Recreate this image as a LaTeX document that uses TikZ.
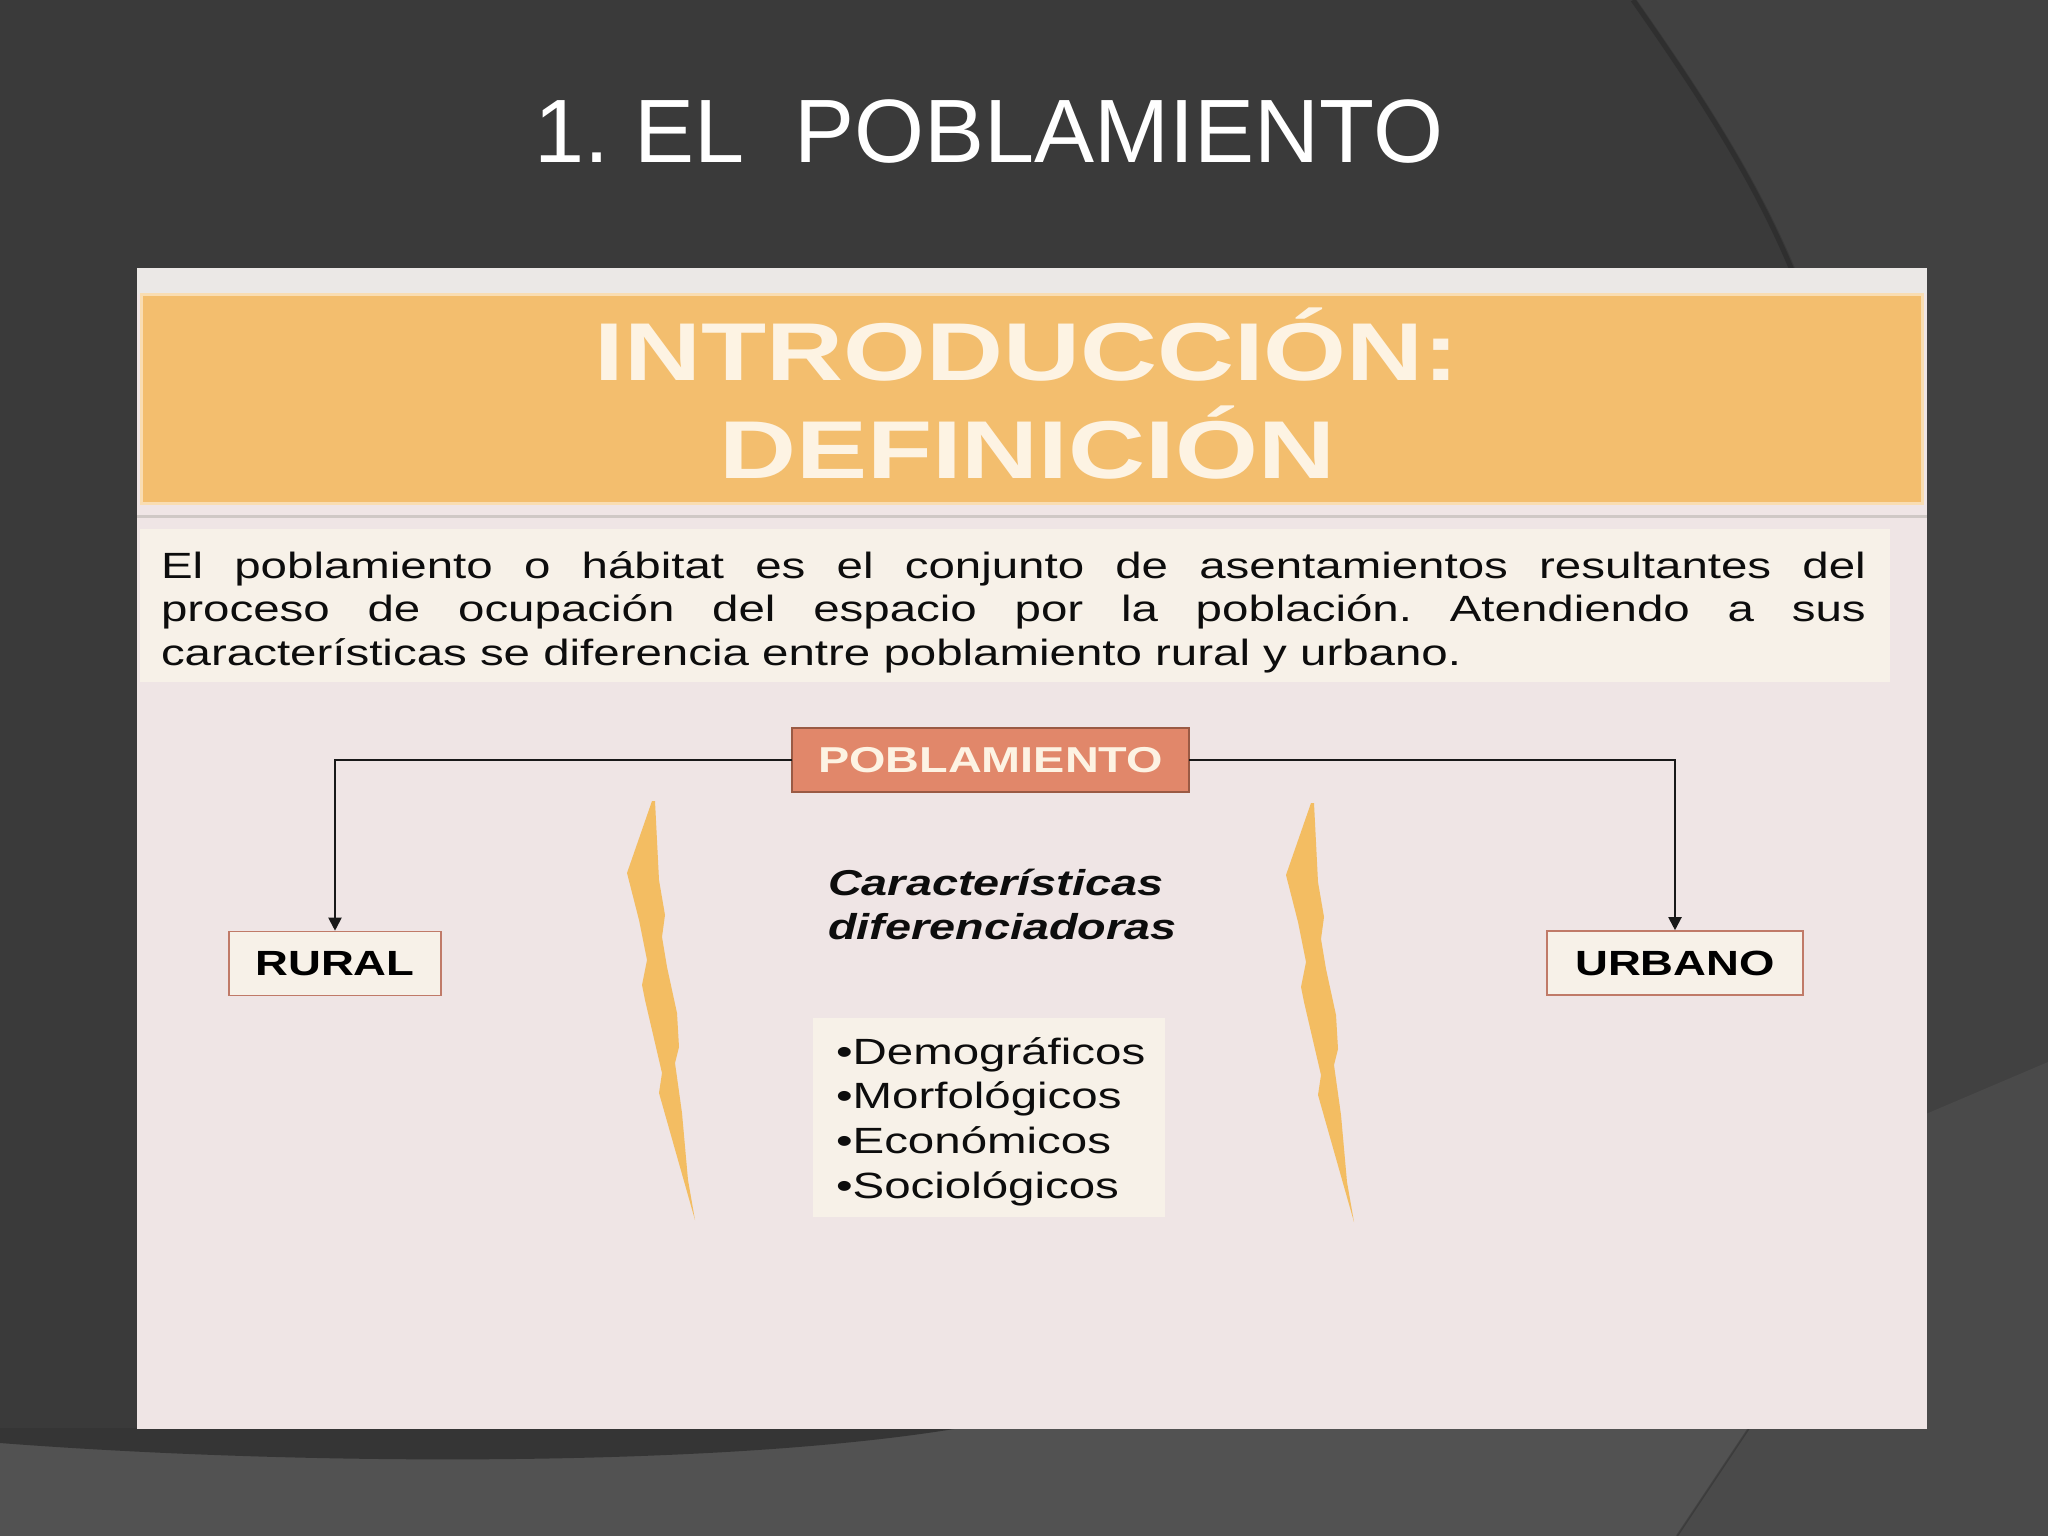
\documentclass[tikz,border=0pt]{standalone}
\usepackage{fontspec}
\setmainfont{Liberation Sans}
\newfontfamily\titlefont{Liberation Sans}
\newfontfamily\innerfont[FakeStretch=1.3]{Liberation Sans}
\usetikzlibrary{arrows.meta}
\frenchspacing
\definecolor{bgdark}{HTML}{3A3A3A}
\definecolor{bgright}{HTML}{414141}
\definecolor{bgbottom}{HTML}{525252}
\definecolor{bgbr}{HTML}{4A4A4A}
\definecolor{bgcurve}{HTML}{353535}
\definecolor{panelbg}{HTML}{EFE5E5}
\definecolor{paneltop}{HTML}{EBE8E6}
\definecolor{orangeband}{HTML}{F3BE6E}
\definecolor{bandedge}{HTML}{F9DDB2}
\definecolor{creambox}{HTML}{F7F1E8}
\definecolor{pobfill}{HTML}{E1876A}
\definecolor{pobdraw}{HTML}{9A5A44}
\definecolor{boxdraw}{HTML}{C07A68}
\definecolor{bolt}{HTML}{F3BD62}
\definecolor{hdrtext}{HTML}{FDF3E3}
\definecolor{sepline}{HTML}{CFC8C5}
\tikzset{
  sizebox/.style={inner sep=0pt, outer sep=0pt},
  mainbox/.style={draw=boxdraw, fill=creambox, line width=1.6pt, inner sep=0pt,
    font=\innerfont\bfseries\fontsize{35}{42}\selectfont, text=black},
  conn/.style={draw=black!90, line width=2pt, -{Triangle[length=13pt,width=13pt]}},
  boltshape/.style={fill=bolt, draw=none},
}
\begin{document}
\begin{tikzpicture}[x=1pt,y=-1pt]
\useasboundingbox (0,0) rectangle (2048,1536);
% background
\fill[bgdark] (0,0) rectangle (2048,1536);
\fill[bgright] (1637,0) .. controls (1700,90) and (1760,180) .. (1800,280) -- (1850,1536) -- (2048,1536) -- (2048,0) -- cycle;
\draw[black, opacity=0.18, line width=5pt] (1633,0) .. controls (1696,90) and (1756,180) .. (1796,280);
\fill[bgbr] (1900,1125) -- (2048,1062) -- (2048,1536) -- (1900,1536) -- cycle;
\fill[bgbottom] (0,1428) rectangle (2048,1536);
\fill[bgbr] (1749,1428) -- (2048,1428) -- (2048,1536) -- (1677,1536) -- cycle;
\draw[black, opacity=0.2, line width=2pt] (1749,1428) -- (1677,1536);
\fill[bgcurve] (0,1428) -- (0,1443) .. controls (300,1466) and (720,1468) .. (960,1428) -- cycle;
% title
\node[sizebox, anchor=base, text=white, font=\titlefont\fontsize{90}{100}\selectfont] (title) at (989,163) {1. EL\ \ POBLAMIENTO};
% panel
\fill[panelbg] (137,268) rectangle (1927,1429);
\fill[paneltop] (137,268) rectangle (1927,294);
\node[sizebox, fill=orangeband, draw=bandedge, line width=3pt, minimum width=1781pt, minimum height=209pt] (band) at (1031.5,398.5) {};
\node[sizebox, anchor=base, align=center, text=hdrtext, font=\innerfont\bfseries\fontsize{82}{98}\selectfont, text width=1200pt] (hdr) at (1027,380) {INTRODUCCIÓN:\\DEFINICIÓN};
\draw[sepline, line width=3pt] (137,516) -- (1927,516);
\node[sizebox, fill=creambox, minimum width=1750pt, minimum height=153pt] (defbox) at (1015,605.5) {};
\node[sizebox, anchor=base west, text width=1705pt, align=justify, text=black!95,
  font=\innerfont\fontsize{36.5}{43.5}\selectfont] (para) at (161,578)
  {El poblamiento o hábitat es el conjunto de asentamientos resultantes del\linebreak proceso de ocupación del espacio por la población. Atendiendo a sus\linebreak características se diferencia entre poblamiento rural y urbano.};
% diagram
\node[sizebox, fill=pobfill, draw=pobdraw, line width=1.6pt, minimum width=397pt, minimum height=64pt,
  text=hdrtext, font=\innerfont\bfseries\fontsize{36}{42}\selectfont] (pob) at (990.5,760) {POBLAMIENTO};
\node[mainbox, minimum width=212pt, minimum height=64pt] (rural) at (335,963.5) {RURAL};
\node[mainbox, minimum width=256pt, minimum height=64pt] (urbano) at (1675,963) {URBANO};
\draw[conn] (pob.west) -| (rural.north);
\draw[conn] (pob.east) -| (urbano.north);
% lightning bolts
\foreach \dx/\dy in {0/0, 659/2}{
  \fill[boltshape, shift={(\dx,\dy)}] (652,801) -- (627,873) -- (639,920) -- (647,960) -- (642,985) -- (645,1000) -- (662,1073) -- (659,1093) -- (695,1220) -- (688,1180) -- (682,1113) -- (675,1063) -- (679,1047) -- (677,1013) -- (667,967) -- (662,937) -- (665,915) -- (659,880) -- (655,801) -- cycle;
}
\node[sizebox, anchor=base west, text width=400pt, align=left, text=black!95,
  font=\innerfont\bfseries\itshape\fontsize{36}{44}\selectfont] (carac) at (828,895)
  {Características\\diferenciadoras};
\node[sizebox, fill=creambox, minimum width=352pt, minimum height=199pt] (list) at (989,1117.5) {};
\node[sizebox, anchor=base west, text width=340pt, align=left, text=black!95,
  font=\innerfont\fontsize{36.5}{44.7}\selectfont] (items) at (836,1064)
  {•Demográficos\\•Morfológicos\\•Económicos\\•Sociológicos};
\end{tikzpicture}
\end{document}
